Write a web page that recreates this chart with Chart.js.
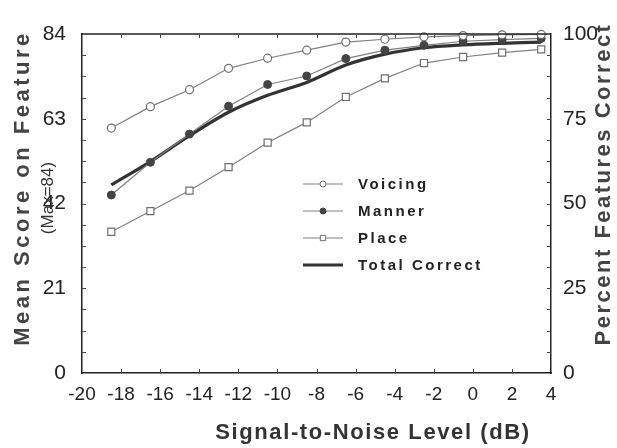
<!DOCTYPE html>
<html>
<head>
<meta charset="utf-8">
<script src="https://cdn.jsdelivr.net/npm/chart.js@4/dist/chart.umd.min.js"></script>
<style>
  body { margin: 0; background: #fff; }
  canvas { display: block; }
</style>
</head>
<body>
<canvas id="chart" width="617" height="448"></canvas>
<script>
/* ------------------------------------------------------------
   DATA
------------------------------------------------------------ */
const snrLevels = [-18.5, -16.5, -14.5, -12.5, -10.5, -8.5, -6.5, -4.5, -2.5, -0.5, 1.5, 3.5];

const voicingScores = [60.7, 66.0, 70.2, 75.5, 78.0, 80.0, 82.0, 82.7, 83.3, 83.6, 83.8, 83.9];
const mannerScores  = [44.1, 52.2, 59.2, 66.1, 71.5, 73.6, 77.9, 80.0, 81.2, 82.2, 82.6, 82.9];
const placeScores   = [35.0, 40.1, 45.2, 51.0, 57.1, 62.1, 68.4, 73.0, 76.8, 78.3, 79.4, 80.2];
const totalScores   = [46.6, 52.4, 58.8, 64.6, 68.8, 72.0, 76.3, 79.0, 80.6, 81.3, 81.7, 82.0];

const xTickValues       = [-20, -18, -16, -14, -12, -10, -8, -6, -4, -2, 0, 2, 4];
const scoreTickValues   = [0, 21, 42, 63, 84];
const percentTickValues = [0, 25, 50, 75, 100];

const FONT = "'Liberation Sans', Arial, Helvetica, sans-serif";

function points(values) {
    return snrLevels.map((x, i) => ({ x: x, y: values[i] }));
}

function useTicks(values) {
    return scale => { scale.ticks = values.map(v => ({ value: v })); };
}

/* ------------------------------------------------------------
   PLUGIN: frame top line + inward tick marks
------------------------------------------------------------ */
const innerTicks = {
    id: "innerTicks",
    afterDraw(chart) {
        const ctx = chart.ctx;
        const a = chart.chartArea;
        const xs = chart.scales.x;
        const ys = chart.scales.y;

        ctx.save();
        ctx.strokeStyle = "#222";
        ctx.lineWidth = 1.5;
        ctx.beginPath();
        ctx.moveTo(a.left, a.top);
        ctx.lineTo(a.right, a.top);
        ctx.stroke();

        ctx.lineWidth = 1;
        ctx.strokeStyle = "#444";
        ctx.beginPath();
        xTickValues.slice(1, -1).forEach(v => {
            const px = Math.round(xs.getPixelForValue(v)) + 0.5;
            ctx.moveTo(px, a.bottom);
            ctx.lineTo(px, a.bottom - 4);
            ctx.moveTo(px, a.top);
            ctx.lineTo(px, a.top + 4);
        });
        for (let i = 1; i < 16; i++) {
            const py = Math.round(ys.getPixelForValue(i * 84 / 16)) + 0.5;
            ctx.moveTo(a.left, py);
            ctx.lineTo(a.left + 4, py);
            ctx.moveTo(a.right, py);
            ctx.lineTo(a.right - 4, py);
        }
        ctx.stroke();
        ctx.restore();
    }
};

/* ------------------------------------------------------------
   PLUGIN: axis titles (letter spaced) and in-plot legend
------------------------------------------------------------ */
const titlesAndLegend = {
    id: "titlesAndLegend",
    afterDraw(chart) {
        const ctx = chart.ctx;
        ctx.save();
        ctx.textBaseline = "middle";
        ctx.textAlign = "center";

        // left title
        ctx.save();
        ctx.translate(23, 188);
        ctx.rotate(-Math.PI / 2);
        ctx.fillStyle = "#444";
        ctx.font = "bold 22px " + FONT;
        ctx.letterSpacing = "3.5px";
        ctx.fillText("Mean Score on Feature", 0, 0);
        ctx.letterSpacing = "0px";
        ctx.font = "17px " + FONT;
        ctx.fillStyle = "#333";
        ctx.fillText("(Max=84)", -10, 25);
        ctx.restore();

        // right title
        ctx.save();
        ctx.translate(604, 184);
        ctx.rotate(-Math.PI / 2);
        ctx.fillStyle = "#444";
        ctx.font = "bold 22px " + FONT;
        ctx.letterSpacing = "2.5px";
        ctx.fillText("Percent Features Correct", 0, 0);
        ctx.restore();

        // bottom title
        ctx.fillStyle = "#333";
        ctx.font = "bold 22px " + FONT;
        ctx.letterSpacing = "1.6px";
        ctx.fillText("Signal-to-Noise Level (dB)", 373, 433);

        // legend
        ctx.letterSpacing = "2.5px";
        ctx.textAlign = "left";
        ctx.font = "bold 15px " + FONT;
        chart.data.datasets.forEach((ds, i) => {
            const y = 184 + i * 27;
            ctx.strokeStyle = ds.borderColor;
            ctx.lineWidth = ds.borderWidth;
            ctx.beginPath();
            ctx.moveTo(303, y);
            ctx.lineTo(343, y);
            ctx.stroke();
            if (ds.pointRadius > 0) {
                ctx.fillStyle = ds.pointBackgroundColor;
                ctx.strokeStyle = ds.pointBorderColor;
                ctx.lineWidth = 1;
                Chart.helpers.drawPoint(ctx, {
                    pointStyle: ds.pointStyle,
                    radius: ds.pointRadius * 0.75,
                    rotation: 0,
                    borderWidth: 1
                }, 323, y);
            }
            ctx.fillStyle = "#222";
            ctx.fillText(ds.label, 358, y + 1);
        });
        ctx.restore();
    }
};

/* ------------------------------------------------------------
   CHART
------------------------------------------------------------ */
const axisBorder = { display: true, color: "#222", width: 1.5 };

new Chart(document.getElementById("chart").getContext("2d"), {
    type: "line",
    data: {
        datasets: [
            {
                label: "Voicing",
                data: points(voicingScores),
                borderColor: "#808080",
                borderWidth: 1.2,
                pointStyle: "circle",
                pointRadius: 4,
                pointBackgroundColor: "#ffffff",
                pointBorderColor: "#707070",
                pointBorderWidth: 1.2,
                clip: 6
            },
            {
                label: "Manner",
                data: points(mannerScores),
                borderColor: "#808080",
                borderWidth: 1.2,
                pointStyle: "circle",
                pointRadius: 4,
                pointBackgroundColor: "#444444",
                pointBorderColor: "#444444",
                pointBorderWidth: 1,
                clip: 6
            },
            {
                label: "Place",
                data: points(placeScores),
                borderColor: "#808080",
                borderWidth: 1.2,
                pointStyle: "rect",
                pointRadius: 5,
                pointBackgroundColor: "#ffffff",
                pointBorderColor: "#707070",
                pointBorderWidth: 1.2,
                clip: 6
            },
            {
                label: "Total Correct",
                data: points(totalScores),
                borderColor: "#333333",
                borderWidth: 3.2,
                pointRadius: 0,
                tension: 0.3,
                clip: 6
            }
        ]
    },
    options: {
        responsive: false,
        animation: false,
        layout: { padding: { top: 34, left: 0, right: 0, bottom: 0 } },
        plugins: {
            legend: { display: false },
            tooltip: { enabled: false }
        },
        scales: {
            x: {
                type: "linear",
                position: "bottom",
                min: -20,
                max: 4,
                afterBuildTicks: useTicks(xTickValues),
                afterFit: s => { s.height = 75; },
                grid: { display: false },
                border: axisBorder,
                ticks: {
                    color: "#222",
                    font: { family: FONT, size: 19 },
                    padding: 2,
                    maxRotation: 0,
                    autoSkip: false
                }
            },
            y: {
                position: "left",
                min: 0,
                max: 84,
                afterBuildTicks: useTicks(scoreTickValues),
                afterFit: s => { s.width = 82; },
                grid: { display: false },
                border: axisBorder,
                ticks: {
                    color: "#222",
                    font: { family: FONT, size: 21 },
                    padding: 8
                }
            },
            y2: {
                position: "right",
                display: true,
                min: 0,
                max: 100,
                afterBuildTicks: useTicks(percentTickValues),
                afterFit: s => { s.width = 66; },
                grid: { display: false },
                border: axisBorder,
                ticks: {
                    color: "#222",
                    font: { family: FONT, size: 21 },
                    padding: 4
                }
            }
        }
    },
    plugins: [innerTicks, titlesAndLegend]
});
</script>
</body>
</html>
